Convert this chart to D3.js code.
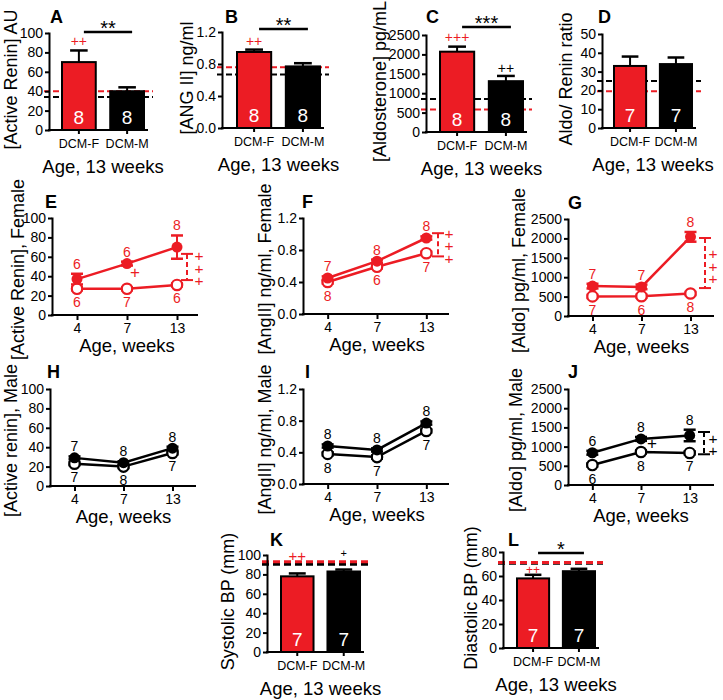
<!DOCTYPE html>
<html><head><meta charset="utf-8">
<script src="https://cdn.jsdelivr.net/npm/d3@7"></script>
<style>body{margin:0;background:#fff} svg{display:block}</style>
</head><body>
<svg id="c" width="723" height="700"></svg>
<script>
// ---------------- DATA ----------------
const barCats = ["DCM-F", "DCM-M"];
const weeks = ["4", "7", "13"];

// A: active renin at 13 weeks
const reninBar = [70, 40], reninBarErr = [12, 4], reninBarN = [8, 8], reninRef = [40, 34];
// B: Ang II
const angBar = [0.95, 0.77], angBarErr = [0.03, 0.04], angBarN = [8, 8], angRef = [0.76, 0.67];
// C: aldosterone
const aldoBar = [2070, 1310], aldoBarErr = [130, 135], aldoBarN = [8, 8], aldoRef = [580, 850];
// D: aldo/renin ratio
const ratioBar = [33, 34], ratioBarErr = [5, 3.5], ratioBarN = [7, 7], ratioRef = [19.5, 25];
// K: systolic BP
const sbpBar = [78, 83], sbpBarErr = [3, 2], sbpBarN = [7, 7], sbpRef = [93, 90.5];
// L: diastolic BP
const dbpBar = [58, 64], dbpBarErr = [3, 2], dbpBarN = [7, 7], dbpRef = [71.2, 70.6];

// E: female renin over time
const reninF_dcm = [37, 53, 70], reninF_dcmErr = [5.5, 2, 12], reninF_dcmN = [6, 6, 8];
const reninF_ctl = [27, 27, 31], reninF_ctlErr = [1.5, 1.5, 1.5], reninF_ctlN = [6, 7, 6];
// F: female Ang II
const angF_dcm = [0.45, 0.66, 0.95], angF_dcmErr = [0.02, 0.02, 0.02], angF_dcmN = [7, 8, 8];
const angF_ctl = [0.40, 0.59, 0.76], angF_ctlErr = [0.02, 0.02, 0.02], angF_ctlN = [8, 6, 7];
// G: female aldosterone
const aldoF_dcm = [770, 750, 2040], aldoF_dcmErr = [60, 60, 125], aldoF_dcmN = [7, 7, 8];
const aldoF_ctl = [505, 510, 580], aldoF_ctlErr = [40, 40, 40], aldoF_ctlN = [7, 6, 8];
// H: male renin
const reninM_dcm = [29, 24, 39], reninM_dcmErr = [1.5, 1.5, 1.5], reninM_dcmN = [7, 8, 8];
const reninM_ctl = [23, 20, 34], reninM_ctlErr = [1.5, 1.5, 1.5], reninM_ctlN = [7, 8, 7];
// I: male Ang II
const angM_dcm = [0.48, 0.43, 0.77], angM_dcmErr = [0.02, 0.02, 0.02], angM_dcmN = [8, 8, 8];
const angM_ctl = [0.38, 0.34, 0.67], angM_ctlErr = [0.02, 0.02, 0.02], angM_ctlN = [8, 7, 7];
// J: male aldosterone
const aldoM_dcm = [840, 1200, 1290], aldoM_dcmErr = [50, 50, 150], aldoM_dcmN = [6, 8, 8];
const aldoM_ctl = [520, 860, 835], aldoM_ctlErr = [40, 40, 40], aldoM_ctlN = [6, 8, 7];

// ---------------- DRAWING ----------------
const FONT = '"Liberation Sans", Arial, Helvetica, sans-serif';
const RED = "#ec1c24";
const svg = d3.select("#c").attr("font-family", FONT);

function yAxis(g, y, ax, ticks, fmt) {
  const gg = g.append("g").attr("transform", `translate(${ax},0)`)
    .call(d3.axisLeft(y).tickValues(ticks).tickFormat(fmt).tickSize(4).tickSizeOuter(0).tickPadding(2));
  gg.attr("font-family", FONT).attr("font-size", 14);
  gg.select(".domain").attr("stroke-width", 2).attr("stroke-linecap", "square");
  gg.selectAll(".tick line").attr("stroke-width", 2);
  gg.selectAll(".tick text").attr("fill", "#000");
  return gg;
}
function text(g, x, y, t, o = {}) {
  return g.append("text").attr("x", x).attr("y", y).text(t)
    .attr("font-size", o.fs || 14).attr("fill", o.c || "#000")
    .attr("text-anchor", o.anchor || "middle")
    .attr("font-weight", o.bold ? "bold" : null)
    .attr("dominant-baseline", o.central ? "central" : null);
}
function yLabel(g, cx, cy, t) {
  g.append("text").attr("transform", `translate(${cx},${cy}) rotate(-90)`)
    .attr("text-anchor", "middle").attr("dy", "0.35em").attr("font-size", 18).text(t);
}

function barPanel(o) {
  const g = svg.append("g");
  const y = d3.scaleLinear().domain([0, o.max]).range([o.yBot, o.yTop]);
  const x = d3.scaleBand().domain(barCats).range([o.ax + o.off, o.ax + o.off + o.span]).paddingInner(0.3).paddingOuter(0);
  const fills = [RED, "#000"];
  const bw = x.bandwidth();
  // reference dashed lines (black first, red on top)
  [1, 0].forEach(i => {
    const r = o.refs[i];
    g.append("line").attr("x1", o.ax - 5).attr("x2", o.ax + o.off + o.span + (o.refExt || 9))
      .attr("y1", y(r)).attr("y2", y(r)).attr("stroke", fills[i])
      .attr("stroke-width", o.refW || 2).attr("stroke-dasharray", o.dash || "6,3");
  });
  // error bars
  barCats.forEach((c, i) => {
    const cx = x(c) + bw / 2, top = y(o.vals[i] + o.errs[i]);
    g.append("line").attr("x1", cx).attr("x2", cx).attr("y1", y(o.vals[i])).attr("y2", top).attr("stroke", "#000").attr("stroke-width", 2);
    g.append("line").attr("x1", cx - bw * 0.26).attr("x2", cx + bw * 0.26).attr("y1", top).attr("y2", top).attr("stroke", "#000").attr("stroke-width", 2.5);
  });
  // bars
  g.selectAll("rect.bar").data(o.vals).join("rect").attr("class", "bar")
    .attr("x", (d, i) => x(barCats[i])).attr("y", d => y(d))
    .attr("width", bw).attr("height", d => o.yBot - y(d))
    .attr("fill", (d, i) => fills[i]).attr("stroke", "#000").attr("stroke-width", 2);
  // n labels
  o.ns.forEach((n, i) => text(g, x(barCats[i]) + bw / 2, o.yBot - 6, n, { fs: 19, c: "#fff" }));
  // axes
  yAxis(g, y, o.ax, o.ticks, o.fmt);
  const xg = g.append("g").attr("transform", `translate(0,${o.yBot})`)
    .call(d3.axisBottom(x).tickSize(4).tickPadding(5));
  xg.select(".domain").remove();
  xg.attr("font-family", FONT).attr("font-size", 12.5);
  xg.selectAll(".tick line").attr("stroke-width", 2);
  g.append("line").attr("x1", o.ax).attr("x2", o.ax + o.off + o.span + 3).attr("y1", o.yBot).attr("y2", o.yBot)
    .attr("stroke", "#000").attr("stroke-width", 2).attr("stroke-linecap", "square");
  // plus marks
  (o.plus || []).forEach(p => {
    const cx = x(barCats[p.i]) + bw / 2;
    text(g, cx, y(o.vals[p.i] + o.errs[p.i]) - p.dy, p.t, { fs: p.fs, c: p.c, central: true });
  });
  // significance line
  if (o.sig) {
    const x1 = x(barCats[0]) + bw / 2 + 5, x2 = x(barCats[1]) + bw / 2 + 5;
    g.append("line").attr("x1", x1).attr("x2", x2).attr("y1", o.sigY).attr("y2", o.sigY).attr("stroke", "#000").attr("stroke-width", 2.5);
    text(g, (x1 + x2) / 2, o.sigY + 3, o.sig, { fs: 20 });
  }
  text(g, o.lx, o.ly, o.letter, { fs: 18, bold: true, anchor: "start" });
  yLabel(g, o.ylx, (o.yTop + o.yBot) / 2 - 2, o.ylabel);
  text(g, o.ax + o.off + o.span / 2, o.yBot + 43, "Age, 13 weeks", { fs: 18.5 });
}

function linePanel(o) {
  const g = svg.append("g");
  const col = o.color;
  const y = d3.scaleLinear().domain([0, o.max]).range([o.yBot, o.yTop]);
  const x = d3.scalePoint().domain(weeks).range([o.ax, o.ax + o.L]).padding(0.5);
  const line = d3.line().x((d, i) => x(weeks[i])).y(d => y(d));
  // axes
  yAxis(g, y, o.ax, o.ticks, o.fmt);
  const xg = g.append("g").attr("transform", `translate(0,${o.yBot})`)
    .call(d3.axisBottom(x).tickSize(5).tickPadding(3));
  xg.select(".domain").remove();
  xg.attr("font-family", FONT).attr("font-size", 14);
  xg.selectAll(".tick line").attr("stroke-width", 2);
  g.append("line").attr("x1", o.ax).attr("x2", o.ax + 145).attr("y1", o.yBot).attr("y2", o.yBot)
    .attr("stroke", "#000").attr("stroke-width", 2).attr("stroke-linecap", "square");
  // error bars
  function errs(vals, es) {
    vals.forEach((v, i) => {
      const cx = x(weeks[i]), t = y(v + es[i]), b = y(v - es[i]);
      g.append("line").attr("x1", cx).attr("x2", cx).attr("y1", t).attr("y2", b).attr("stroke", col).attr("stroke-width", 2);
      [t, b].forEach(yy => g.append("line").attr("x1", cx - 6).attr("x2", cx + 6).attr("y1", yy).attr("y2", yy).attr("stroke", col).attr("stroke-width", 2.5));
    });
  }
  errs(o.ctl, o.ctlErr);
  errs(o.dcm, o.dcmErr);
  g.append("path").datum(o.ctl).attr("d", line).attr("fill", "none").attr("stroke", col).attr("stroke-width", 2.5);
  g.append("path").datum(o.dcm).attr("d", line).attr("fill", "none").attr("stroke", col).attr("stroke-width", 2.5);
  g.selectAll("circle.open").data(o.ctl).join("circle").attr("class", "open")
    .attr("cx", (d, i) => x(weeks[i])).attr("cy", d => y(d)).attr("r", 5.2)
    .attr("fill", "#fff").attr("stroke", col).attr("stroke-width", 2.2);
  g.selectAll("circle.fill").data(o.dcm).join("circle").attr("class", "fill")
    .attr("cx", (d, i) => x(weeks[i])).attr("cy", d => y(d)).attr("r", 5.5).attr("fill", col);
  // n labels
  o.dcmN.forEach((n, i) => text(g, x(weeks[i]), y(o.dcm[i] + o.dcmErr[i]) - 5, n, { fs: 14, c: col }));
  o.ctlN.forEach((n, i) => text(g, x(weeks[i]), y(o.ctl[i] - o.ctlErr[i]) + 17, n, { fs: 14, c: col }));
  // bracket with vertically stacked plus signs (one vertical text)
  if (o.bracket) {
    const bx = o.ax + o.bx, t = y(o.bracket[1]), b = y(o.bracket[0]);
    g.append("line").attr("x1", bx).attr("x2", bx).attr("y1", t).attr("y2", b).attr("stroke", col).attr("stroke-width", 2).attr("stroke-dasharray", "5,3");
    [t, b].forEach(yy => g.append("line").attr("x1", bx - 6).attr("x2", bx + 6).attr("y1", yy).attr("y2", yy).attr("stroke", col).attr("stroke-width", 2));
    g.append("text").attr("x", o.ax + o.px).attr("y", y(o.plusMid))
      .attr("font-size", 15.5).attr("fill", col).attr("text-anchor", "middle")
      .style("writing-mode", "vertical-rl").style("text-orientation", "upright")
      .style("letter-spacing", "-4.5px")
      .text(o.plusText);
  }
  if (o.mark) text(g, o.ax + o.mark[0], y(o.mark[1]), "+", { fs: 17, c: col, central: true });
  text(g, o.lx, o.ly, o.letter, { fs: 18, bold: true, anchor: "start" });
  yLabel(g, o.ylx, (o.yTop + o.yBot) / 2 + 3, o.ylabel);
  text(g, x("7"), o.yBot + 37, "Age, weeks", { fs: 18.5 });
}

const fmtInt = d3.format("d"), fmt1 = d3.format(".1f");
const t100 = d3.range(0, 101, 20), t12 = [0, 0.4, 0.8, 1.2], t2500 = d3.range(0, 2501, 500);

barPanel({ ax: 49, yTop: 33, yBot: 130, off: 13, span: 82, max: 100, ticks: t100, fmt: fmtInt,
  vals: reninBar, errs: reninBarErr, ns: reninBarN, refs: reninRef, letter: "A", lx: 50, ly: 23,
  ylabel: "[Active Renin] AU", ylx: 11, sig: "**", sigY: 32,
  plus: [{ i: 0, t: "++", dy: 9.5, fs: 14, c: RED }] });
barPanel({ ax: 222, yTop: 32, yBot: 128, off: 15, span: 83, max: 1.2, ticks: t12, fmt: fmt1,
  vals: angBar, errs: angBarErr, ns: angBarN, refs: angRef, letter: "B", lx: 225, ly: 23,
  ylabel: "[ANG II] ng/ml", ylx: 187, sig: "**", sigY: 29,
  plus: [{ i: 0, t: "++", dy: 8.6, fs: 14, c: RED }] });
barPanel({ ax: 426, yTop: 35, yBot: 132, off: 14, span: 83, max: 2500, ticks: t2500, fmt: fmtInt,
  vals: aldoBar, errs: aldoBarErr, ns: aldoBarN, refs: aldoRef, letter: "C", lx: 426, ly: 23,
  ylabel: "[Aldosterone] pg/mL", ylx: 380, sig: "***", sigY: 27,
  plus: [{ i: 0, t: "+++", dy: 10, fs: 14, c: RED }, { i: 1, t: "++", dy: 8, fs: 14, c: "#000" }] });
barPanel({ ax: 602, yTop: 34, yBot: 128, off: 12, span: 78, max: 50, ticks: d3.range(0, 51, 10), fmt: fmtInt,
  vals: ratioBar, errs: ratioBarErr, ns: ratioBarN, refs: ratioRef, letter: "D", lx: 598, ly: 23,
  ylabel: "Aldo/ Renin ratio", ylx: 566 });
barPanel({ ax: 267, yTop: 555, yBot: 652, off: 14, span: 79, max: 100, ticks: t100, fmt: fmtInt,
  vals: sbpBar, errs: sbpBarErr, ns: sbpBarN, refs: sbpRef, letter: "K", lx: 270, ly: 546,
  ylabel: "Systolic BP (mm)", ylx: 228, refW: 3, dash: "7,4", refExt: 12,
  plus: [{ i: 0, t: "++", dy: 18.4, fs: 15, c: RED }, { i: 1, t: "+", dy: 16.5, fs: 11, c: "#000" }] });
barPanel({ ax: 503, yTop: 552, yBot: 648, off: 14, span: 78, max: 80, ticks: d3.range(0, 81, 20), fmt: fmtInt,
  vals: dbpBar, errs: dbpBarErr, ns: dbpBarN, refs: dbpRef, letter: "L", lx: 508, ly: 546,
  ylabel: "Diastolic BP (mm)", ylx: 471, refW: 3, dash: "7,4", refExt: 8, sig: "*", sigY: 553,
  plus: [{ i: 0, t: "++", dy: 5, fs: 12, c: RED }] });

linePanel({ ax: 52, yTop: 218, yBot: 315, L: 150, max: 100, ticks: t100, fmt: fmtInt, color: RED,
  dcm: reninF_dcm, dcmErr: reninF_dcmErr, dcmN: reninF_dcmN, ctl: reninF_ctl, ctlErr: reninF_ctlErr, ctlN: reninF_ctlN,
  bracket: [36, 63], bx: 135, px: 147, plusText: "+++", plusMid: 50.5, mark: [83, 44],
  letter: "E", lx: 45, ly: 208, ylabel: "[Active Renin], Female", ylx: 18 });
linePanel({ ax: 303, yTop: 218, yBot: 314, L: 148, max: 1.2, ticks: t12, fmt: fmt1, color: RED,
  dcm: angF_dcm, dcmErr: angF_dcmErr, dcmN: angF_dcmN, ctl: angF_ctl, ctlErr: angF_ctlErr, ctlN: angF_ctlN,
  bracket: [0.72, 1.01], bx: 135, px: 146, plusText: "+++", plusMid: 0.88,
  letter: "F", lx: 302, ly: 208, ylabel: "[AngII] ng/ml, Female", ylx: 265 });
linePanel({ ax: 568, yTop: 219, yBot: 316, L: 147, max: 2500, ticks: t2500, fmt: fmtInt, color: RED,
  dcm: aldoF_dcm, dcmErr: aldoF_dcmErr, dcmN: aldoF_dcmN, ctl: aldoF_ctl, ctlErr: aldoF_ctlErr, ctlN: aldoF_ctlN,
  bracket: [720, 2010], bx: 137, px: 145, plusText: "+++", plusMid: 1340,
  letter: "G", lx: 568, ly: 209, ylabel: "[Aldo] pg/ml, Female", ylx: 519 });
linePanel({ ax: 50, yTop: 389, yBot: 486, L: 147, max: 100, ticks: t100, fmt: fmtInt, color: "#000",
  dcm: reninM_dcm, dcmErr: reninM_dcmErr, dcmN: reninM_dcmN, ctl: reninM_ctl, ctlErr: reninM_ctlErr, ctlN: reninM_ctlN,
  letter: "H", lx: 47, ly: 378, ylabel: "[Active renin], Male", ylx: 11 });
linePanel({ ax: 303, yTop: 389, yBot: 484, L: 148, max: 1.2, ticks: t12, fmt: fmt1, color: "#000",
  dcm: angM_dcm, dcmErr: angM_dcmErr, dcmN: angM_dcmN, ctl: angM_ctl, ctlErr: angM_ctlErr, ctlN: angM_ctlN,
  letter: "I", lx: 305, ly: 378, ylabel: "[AngII] ng/ml, Male", ylx: 265 });
linePanel({ ax: 568, yTop: 389, yBot: 485, L: 146, max: 2500, ticks: t2500, fmt: fmtInt, color: "#000",
  dcm: aldoM_dcm, dcmErr: aldoM_dcmErr, dcmN: aldoM_dcmN, ctl: aldoM_ctl, ctlErr: aldoM_ctlErr, ctlN: aldoM_ctlN,
  bracket: [800, 1380], bx: 136, px: 145, plusText: "++", plusMid: 1107, mark: [84, 1068],
  letter: "J", lx: 568, ly: 378, ylabel: "[Aldo] pg/ml, Male", ylx: 516 });
</script>
</body></html>
